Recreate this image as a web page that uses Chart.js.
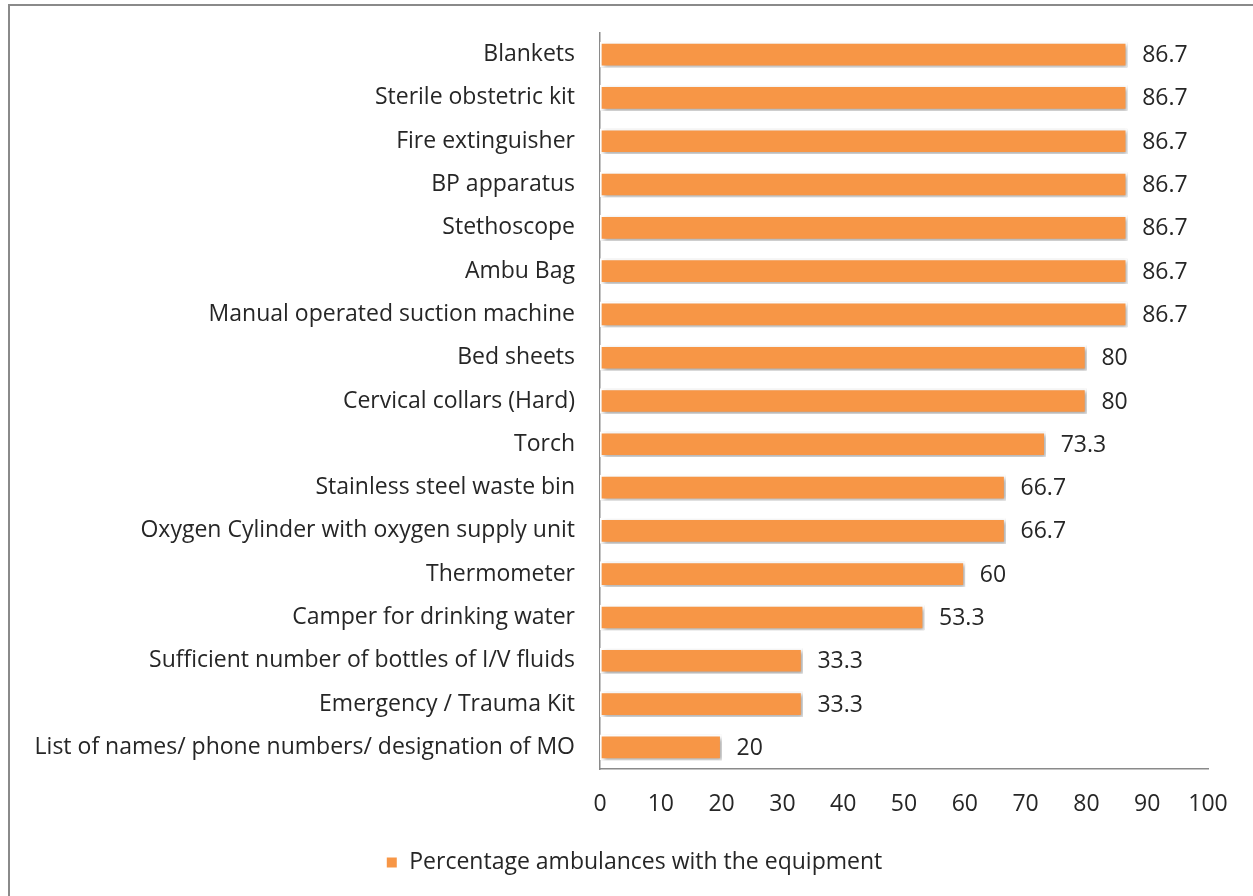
<!DOCTYPE html>
<html>
<head>
<meta charset="utf-8">
<script src="https://cdn.jsdelivr.net/npm/chart.js@4/dist/chart.umd.min.js"></script>
<style>
    html, body { margin: 0; padding: 0; background: #fff; overflow: hidden; }
    #frame {
        position: absolute; left: 8px; top: 4px;
        width: 2000px; height: 2000px;
        border: 2px solid #8a8a8a;
    }
    #wrap { position: absolute; left: 0; top: 0; width: 1253px; height: 896px; }
</style>
</head>
<body>
<div id="frame"></div>
<div id="wrap"><canvas id="equipChart"></canvas></div>
<script>
var items = [
    "Blankets",
    "Sterile obstetric kit",
    "Fire extinguisher",
    "BP apparatus",
    "Stethoscope",
    "Ambu Bag",
    "Manual operated suction machine",
    "Bed sheets",
    "Cervical collars (Hard)",
    "Torch",
    "Stainless steel waste bin",
    "Oxygen Cylinder with oxygen supply unit",
    "Thermometer",
    "Camper for drinking water",
    "Sufficient number of bottles of I/V fluids",
    "Emergency / Trauma Kit",
    "List of names/ phone numbers/ designation of MO"
];
var percentages = [86.7, 86.7, 86.7, 86.7, 86.7, 86.7, 86.7, 80, 80, 73.3, 66.7, 66.7, 60, 53.3, 33.3, 33.3, 20];
var xTicks = [0, 10, 20, 30, 40, 50, 60, 70, 80, 90, 100];
var seriesName = "Percentage ambulances with the equipment";

var textColor = "#262626";
var fontFamily = "'Open Sans', sans-serif";
var fontSize = 23;

// soft drop shadow under the bars
var barShadow = {
    id: "barShadow",
    beforeDatasetsDraw: function (chart) {
        var ctx = chart.ctx;
        ctx.save();
        ctx.shadowColor = "rgba(0,0,0,0.35)";
        ctx.shadowBlur = 4;
        ctx.shadowOffsetX = 2;
        ctx.shadowOffsetY = 2;
    },
    afterDatasetsDraw: function (chart) {
        chart.ctx.restore();
    }
};

// value printed to the right of each bar
var valueLabels = {
    id: "valueLabels",
    afterDatasetsDraw: function (chart) {
        var ctx = chart.ctx;
        var meta = chart.getDatasetMeta(0);
        ctx.save();
        ctx.font = fontSize + "px " + fontFamily;
        ctx.fillStyle = textColor;
        ctx.textAlign = "left";
        ctx.textBaseline = "middle";
        meta.data.forEach(function (bar, i) {
            ctx.fillText(String(percentages[i]), bar.x + 15, bar.y + 1);
        });
        ctx.restore();
    }
};

// nudge the legend a bit right so it sits under the plot
var legendShift = {
    id: "legendShift",
    afterLayout: function (chart) {
        if (chart.legend) {
            chart.legend.left += 20;
            chart.legend.right += 20;
        }
    }
};

var ctx = document.getElementById("equipChart").getContext("2d");
new Chart(ctx, {
    type: "bar",
    data: {
        labels: items,
        datasets: [{
            label: seriesName,
            data: percentages,
            backgroundColor: "#F79646",
            borderColor: "#ffffff",
            borderWidth: 2,
            borderSkipped: false,
            barThickness: 25
        }]
    },
    options: {
        indexAxis: "y",
        responsive: true,
        maintainAspectRatio: false,
        animation: false,
        layout: {
            padding: { left: 20, right: 45, top: 33, bottom: 12 }
        },
        scales: {
            x: {
                min: 0,
                max: 100,
                afterBuildTicks: function (scale) {
                    scale.ticks = xTicks.map(function (v) { return { value: v }; });
                },
                afterFit: function (scale) { scale.height = 72; },
                grid: { display: false, drawTicks: false },
                border: { display: true, color: "#8a8a8a", width: 1.5 },
                ticks: {
                    padding: 22,
                    color: textColor,
                    font: { family: fontFamily, size: fontSize }
                }
            },
            y: {
                afterFit: function (scale) {
                    scale.width = 580;
                    scale.paddingTop = 0;
                    scale.paddingBottom = 0;
                },
                grid: { display: false, drawTicks: false },
                border: { display: true, color: "#8a8a8a", width: 1.5 },
                ticks: {
                    padding: 25,
                    color: textColor,
                    font: { family: fontFamily, size: fontSize }
                }
            }
        },
        plugins: {
            legend: {
                position: "bottom",
                labels: {
                    boxWidth: 12,
                    boxHeight: 12,
                    padding: 10,
                    color: textColor,
                    font: { family: fontFamily, size: fontSize }
                }
            },
            tooltip: { enabled: false }
        }
    },
    plugins: [barShadow, valueLabels, legendShift]
});
</script>
</body>
</html>
